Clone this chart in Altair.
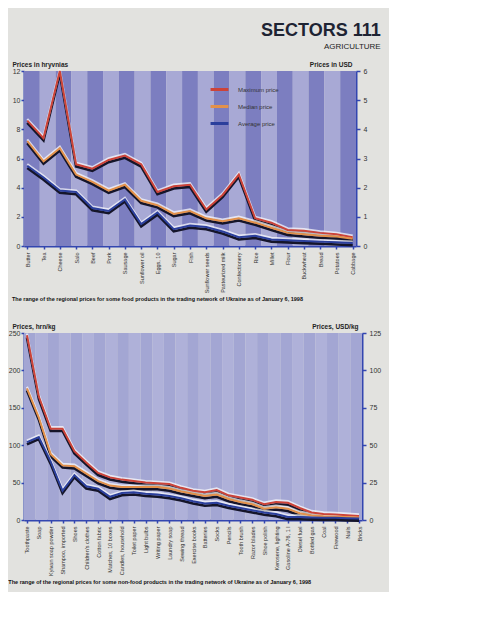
import altair as alt
import pandas as pd

# ---------------- data ----------------
series_names = ["Maximum price", "Median price", "Average price"]

food_products = [
    "Butter", "Tea", "Cheese", "Salo", "Beef", "Pork", "Sausage",
    "Sunflower oil", "Eggs, 10", "Sugar", "Fish", "Sunflower seeds",
    "Pasteurized milk", "Confectionery", "Rice", "Millet", "Flour",
    "Buckwheat", "Bread", "Potatoes", "Cabbage",
]
food_max = [8.6, 7.4, 12.0, 5.6, 5.3, 5.9, 6.2, 5.6, 3.7, 4.1, 4.2,
            2.5, 3.5, 4.9, 1.9, 1.6, 1.1, 1.05, 0.9, 0.8, 0.6]
food_median = [7.2, 5.8, 6.7, 4.9, 4.4, 3.8, 4.2, 3.1, 2.8, 2.2, 2.4,
               1.9, 1.7, 1.9, 1.6, 1.25, 0.9, 0.8, 0.7, 0.65, 0.5]
food_avg = [5.5, 4.7, 3.8, 3.7, 2.6, 2.4, 3.2, 1.5, 2.3, 1.15, 1.4,
            1.3, 1.0, 0.6, 0.7, 0.45, 0.4, 0.35, 0.3, 0.25, 0.2]

nonfood_products = [
    "Toothpaste", "Soap", "Kyivan soap powder",
    "Shampoo, imported", "Shoes", "Children's clothes",
    "Cotton fabric", "Matches, 10 boxes", "Candles, household",
    "Toilet paper", "Light bulbs", "Writing paper",
    "Laundry soap", "Sewing thread", "Exercise books",
    "Batteries", "Socks", "Pencils", "Tooth brush", "Razor blades",
    "Shoe polish", "Kerosene, lighting", "Gasoline A-76, 1 l",
    "Diesel fuel", "Bottled gas", "Coal", "Firewood", "Nails", "Bricks",
]
nonfood_max = [247, 165, 122, 122, 92, 77, 63, 57, 54, 52, 50, 49, 48,
               43, 39, 37, 40, 33, 30, 27, 21, 24, 23, 16, 10, 8, 7.5,
               6.5, 5.5]
nonfood_median = [176, 137, 88, 73, 72, 62, 52, 46, 44, 44, 44, 44, 42,
                  38, 35, 32, 34, 28, 24, 21, 15, 17, 15, 9, 6, 5, 4.5,
                  4, 3.5]
nonfood_avg = [104, 111, 78, 39, 60, 45, 42, 31, 36, 37, 35, 34, 32, 29,
               25, 22, 23, 19, 16, 13, 10, 8, 4, 4, 3.5, 3, 3, 2.5, 2]

food_caption = ("The range of the regional prices for some food products in the "
                "trading network of Ukraine as of January 6, 1998")
nonfood_caption = ("The range of the regional prices for some non-food products in the "
                   "trading network of Ukraine as of January 6, 1998")

AXIS_BLUE = "#3346b0"
NARROW = "Liberation Sans Narrow, Liberation Sans, sans-serif"


def _frange(a, b, step):
    v = a
    out = []
    while v <= b + 1e-9:
        out.append(v)
        v += step
    return out


def make_panel(products, series_values, colors, y_max, y_step, usd_max, usd_step,
               left_title, right_title, caption, stripe_colors, width, height,
               legend_x, legend_y, legend_pad, legend_size, label_limit,
               point_pad):
    rows = []
    for name, vals in zip(series_names, series_values):
        for i, (p, v) in enumerate(zip(products, vals)):
            rows.append({"product": p, "idx": i, "series": name,
                         "value": v, "usd": v / 2})
    df = pd.DataFrame(rows)
    stripes = pd.DataFrame({"product": products, "idx": list(range(len(products)))})

    xaxis = alt.Axis(title=None, labelAngle=270, labelFontSize=5.5,
                     labelColor="#333", labelFont=NARROW, labelPadding=3,
                     labelLimit=label_limit, tickColor=AXIS_BLUE, tickSize=3,
                     tickWidth=1.5, domainColor=AXIS_BLUE, domainWidth=2)
    x = alt.X("product:N", sort=products,
              scale=alt.Scale(type="point", padding=point_pad), axis=xaxis)
    xr = alt.X("product:N", sort=products,
               scale=alt.Scale(type="band", paddingInner=0, paddingOuter=0),
               axis=None)

    yaxis = alt.Axis(title=left_title, titleAngle=0, titleAlign="left",
                     titleBaseline="bottom", titleX=-12, titleY=-4,
                     titleFontSize=6.5, titleFontWeight="bold",
                     titleColor="#222", titleFont=NARROW,
                     values=list(range(0, y_max + 1, y_step)), grid=False,
                     domainColor=AXIS_BLUE, domainWidth=2, tickColor=AXIS_BLUE,
                     tickWidth=1.5, tickSize=3, labelFontSize=7,
                     labelColor="#333", labelPadding=1)
    y = alt.Y("value:Q", scale=alt.Scale(domain=[0, y_max]), axis=yaxis)

    bg = alt.Chart(stripes).mark_rect().encode(
        x=xr,
        color=alt.condition("datum.idx % 2 == 0",
                            alt.value(stripe_colors[0]),
                            alt.value(stripe_colors[1])),
    )
    shadow = alt.Chart(df).mark_line(color="#15152a", strokeWidth=2.6,
                                     yOffset=2.2).encode(
        x=x, y=y, detail="series:N")
    highlight = alt.Chart(df).mark_line(color="#ffffff", strokeWidth=2.2,
                                        opacity=0.7, yOffset=-1.6).encode(
        x=x, y=y, detail="series:N")
    main = alt.Chart(df).mark_line(strokeWidth=2).encode(
        x=x, y=y,
        color=alt.Color("series:N", sort=series_names,
                        scale=alt.Scale(domain=series_names, range=colors),
                        legend=alt.Legend(title=None, orient="none",
                                          legendX=legend_x, legendY=legend_y,
                                          symbolType="stroke",
                                          symbolStrokeWidth=3,
                                          symbolSize=legend_size,
                                          labelFontSize=6,
                                          labelColor="#333", labelFont=NARROW,
                                          rowPadding=legend_pad, padding=0,
                                          labelOffset=8)),
    )
    lines = alt.layer(shadow, highlight, main)
    inner = alt.layer(bg, lines).resolve_scale(x="independent")

    usd_axis = alt.Axis(orient="right", title=right_title, titleAngle=0,
                        titleAlign="right", titleBaseline="bottom",
                        titleX=-4, titleY=-4, titleFontSize=6.5,
                        titleFontWeight="bold", titleColor="#222",
                        titleFont=NARROW,
                        values=_frange(0, usd_max, usd_step),
                        grid=False, domainColor=AXIS_BLUE, domainWidth=2,
                        tickColor=AXIS_BLUE, tickWidth=1.5, tickSize=4,
                        labelFontSize=7, labelColor="#333", labelPadding=3)
    usd = alt.Chart(df).mark_rule(opacity=0).encode(
        y=alt.Y("usd:Q", scale=alt.Scale(domain=[0, usd_max]), axis=usd_axis),
    )
    return alt.layer(inner, usd).resolve_scale(y="independent").properties(
        width=width, height=height,
        title=alt.Title(caption, orient="bottom", anchor="start", fontSize=5.5,
                        font=NARROW, fontWeight="bold", color="#111",
                        offset=4),
    )


top = make_panel(food_products, [food_max, food_median, food_avg],
                 ["#cc4338", "#e3914a", "#2b3f9c"], 12, 2, 6, 1,
                 "Prices in hryvnias", "Prices in USD", food_caption,
                 ["#7c7ec0", "#a8a9d5"], 332, 175, 185, 8, 0, 320, 60, 0.2)

bottom = make_panel(nonfood_products, [nonfood_max, nonfood_median, nonfood_avg],
                    ["#d8463e", "#76a446", "#1f2a6b"], 250, 50, 125, 25,
                    "Prices, hrn/kg", "Prices, USD/kg", nonfood_caption,
                    ["#a3a6d3", "#afb1d9"], 338, 187, 200, 17, 3, 400, 56,
                    0.25)

chart = alt.vconcat(top, bottom, spacing=20).properties(
    title=alt.Title("SECTORS  111", subtitle="AGRICULTURE", anchor="end",
                    fontSize=18, fontWeight="bold", color="#1e2433",
                    subtitleFontSize=8, subtitleColor="#222",
                    font="Liberation Sans", offset=10),
    background="#e2e2df",
    padding={"left": 0, "top": 14, "right": 8, "bottom": 6},
).configure_view(stroke=None)

chart.save("out.html", embed_options={"renderer": "svg", "actions": False})
